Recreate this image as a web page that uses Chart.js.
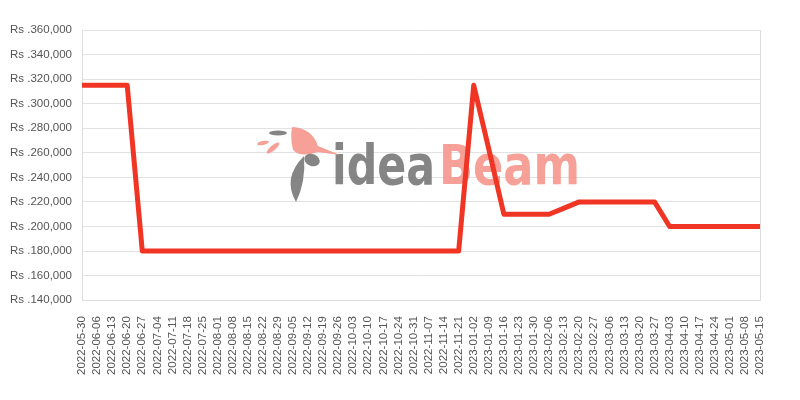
<!DOCTYPE html>
<html>
<head>
<meta charset="utf-8">
<script src="https://cdn.jsdelivr.net/npm/chart.js@4"></script>
<style>
  body { margin: 0; background: #fff; }
  #wrap { width: 800px; height: 400px; }
</style>
</head>
<body>
<div id="wrap"><canvas id="priceChart"></canvas></div>
<script>
const dates = [
    "2022-05-30", "2022-06-06", "2022-06-13", "2022-06-20", "2022-06-27", "2022-07-04",
    "2022-07-11", "2022-07-18", "2022-07-25", "2022-08-01", "2022-08-08", "2022-08-15",
    "2022-08-22", "2022-08-29", "2022-09-05", "2022-09-12", "2022-09-19", "2022-09-26",
    "2022-10-03", "2022-10-10", "2022-10-17", "2022-10-24", "2022-10-31", "2022-11-07",
    "2022-11-14", "2022-11-21", "2023-01-02", "2023-01-09", "2023-01-16", "2023-01-23",
    "2023-01-30", "2023-02-06", "2023-02-13", "2023-02-20", "2023-02-27", "2023-03-06",
    "2023-03-13", "2023-03-20", "2023-03-27", "2023-04-03", "2023-04-10", "2023-04-17",
    "2023-04-24", "2023-05-01", "2023-05-08", "2023-05-15"
];

const prices = [
    315000, 315000, 315000, 315000, 180000, 180000,
    180000, 180000, 180000, 180000, 180000, 180000,
    180000, 180000, 180000, 180000, 180000, 180000,
    180000, 180000, 180000, 180000, 180000, 180000,
    180000, 180000, 315000, 263000, 210000, 210000,
    210000, 210000, 215000, 220000, 220000, 220000,
    220000, 220000, 220000, 200000, 200000, 200000,
    200000, 200000, 200000, 200000
];

const yMin = 140000;
const yMax = 360000;
const yStep = 20000;

const GREY = "rgba(120,120,120,0.9)";
const SALMON = "rgba(245,150,140,0.9)";

function blob(ctx, x, y, rx, ry, rot, color) {
    ctx.fillStyle = color;
    ctx.beginPath();
    ctx.ellipse(x, y, rx, ry, rot, 0, Math.PI * 2);
    ctx.fill();
}

// watermark logo behind the line
const watermark = {
    id: "watermark",
    beforeDatasetsDraw(chart) {
        const ctx = chart.ctx;
        ctx.save();
        ctx.font = "bold 56px 'DejaVu Sans'";
        ctx.textBaseline = "alphabetic";
        let w = ctx.measureText("idea").width;
        ctx.save();
        ctx.translate(332, 184);
        ctx.scale(103 / w, 1);
        ctx.fillStyle = GREY;
        ctx.fillText("idea", 0, 0);
        ctx.restore();
        w = ctx.measureText("Beam").width;
        ctx.save();
        ctx.translate(439, 184);
        ctx.scale(141 / w, 1);
        ctx.fillStyle = SALMON;
        ctx.fillText("Beam", 0, 0);
        ctx.restore();

        // bird
        blob(ctx, 278, 133, 9, 2.5, 0, GREY);
        blob(ctx, 263, 143, 6, 2, -0.2, SALMON);
        blob(ctx, 273, 148, 8, 2.5, -0.7, SALMON);
        ctx.fillStyle = SALMON;
        ctx.beginPath();
        ctx.moveTo(292, 127);
        ctx.quadraticCurveTo(312, 128, 318, 146);
        ctx.lineTo(340, 155);
        ctx.lineTo(318, 152);
        ctx.quadraticCurveTo(300, 158, 293, 150);
        ctx.quadraticCurveTo(290, 138, 292, 127);
        ctx.fill();
        blob(ctx, 312, 160, 8, 6, 0.4, GREY);
        ctx.fillStyle = GREY;
        ctx.beginPath();
        ctx.moveTo(304, 156);
        ctx.quadraticCurveTo(306, 182, 296, 202);
        ctx.quadraticCurveTo(282, 178, 304, 156);
        ctx.fill();
        ctx.restore();
    }
};

// right edge line of plot area
const rightBorder = {
    id: "rightBorder",
    afterDraw(chart) {
        const { ctx, chartArea } = chart;
        ctx.save();
        ctx.strokeStyle = "#dddddd";
        ctx.lineWidth = 1;
        ctx.beginPath();
        ctx.moveTo(chartArea.right + 0.5, chartArea.top);
        ctx.lineTo(chartArea.right + 0.5, chartArea.bottom);
        ctx.stroke();
        ctx.restore();
    }
};

new Chart(document.getElementById("priceChart"), {
    type: "line",
    data: {
        labels: dates,
        datasets: [{
            data: prices,
            borderColor: "#f03524",
            borderWidth: 5,
            borderJoinStyle: "round",
            pointRadius: 0,
            tension: 0,
            fill: false
        }]
    },
    options: {
        responsive: true,
        maintainAspectRatio: false,
        animation: false,
        layout: { padding: { top: 30, right: 40, bottom: 17, left: 0 } },
        plugins: {
            legend: { display: false },
            tooltip: { enabled: false }
        },
        scales: {
            x: {
                offset: false,
                grid: { display: false },
                border: { color: "#dddddd" },
                ticks: {
                    color: "#555",
                    padding: 8,
                    font: { family: "Liberation Sans", size: 11.5 },
                    maxRotation: 90,
                    minRotation: 90,
                    autoSkip: false
                }
            },
            y: {
                min: yMin,
                max: yMax,
                grid: { color: "#e2e2e2", drawTicks: false },
                border: { color: "#dddddd" },
                ticks: {
                    stepSize: yStep,
                    padding: 10,
                    color: "#555",
                    font: { family: "Liberation Sans", size: 11.5 },
                    callback: v => "Rs ." + v.toLocaleString("en-US")
                }
            }
        }
    },
    plugins: [watermark, rightBorder]
});
</script>
</body>
</html>
